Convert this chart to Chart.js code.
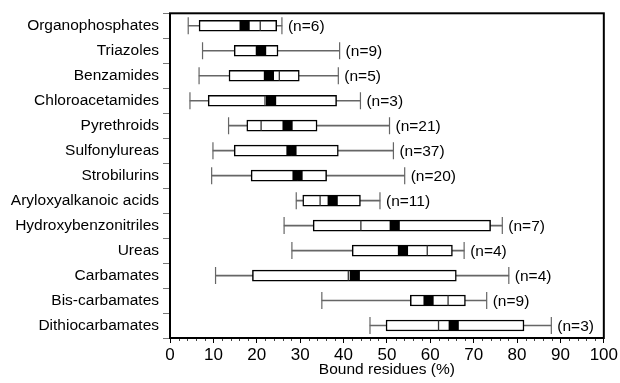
<!DOCTYPE html>
<html>
<head>
<meta charset="utf-8">
<script src="https://cdn.jsdelivr.net/npm/chart.js@4"></script>
<style>
  html, body { margin: 0; padding: 0; background: #fff; }
  #wrap { width: 620px; height: 383px; }
</style>
</head>
<body>
<div id="wrap"><canvas id="boxChart"></canvas></div>
<script>
// Pesticide classes, top to bottom
const classes = ["Organophosphates", "Triazoles", "Benzamides", "Chloroacetamides", "Pyrethroids",
  "Sulfonylureas", "Strobilurins", "Aryloxyalkanoic acids", "Hydroxybenzonitriles", "Ureas",
  "Carbamates", "Bis-carbamates", "Dithiocarbamates"];

// Box plot stats, bound residues (%)
const mins    = [4.2, 7.5, 6.7, 4.6, 13.5, 9.9, 9.6, 29.1, 26.3, 28.1, 10.5, 35.0, 46.1];
const q1s     = [6.7, 14.8, 13.6, 8.8, 17.7, 14.8, 18.7, 30.6, 33.0, 42.0, 19.0, 55.4, 49.8];
const medians = [20.8, 19.9, 25.2, 21.9, 21.0, 28.0, 29.4, 34.6, 44.0, 59.3, 41.1, 64.1, 61.9];
const means   = [17.2, 21.0, 22.8, 23.3, 27.1, 28.0, 29.4, 37.5, 51.8, 53.7, 42.6, 59.6, 65.4];
const q3s     = [24.6, 24.9, 29.8, 38.4, 33.9, 38.8, 36.1, 43.9, 73.9, 65.1, 66.0, 68.1, 81.6];
const maxs    = [25.8, 39.1, 38.8, 43.9, 50.6, 51.5, 54.1, 48.4, 76.6, 67.8, 78.1, 73.0, 87.9];
const counts  = [6, 9, 5, 3, 21, 37, 20, 11, 7, 4, 4, 9, 3];

const xTicksMax = 100;
const fontFamily = "'Liberation Sans', Arial, Helvetica, sans-serif";

// helper to make {x, y} points for one stat
function pts(values) {
  return values.map((v, i) => ({ x: v, y: classes[i] }));
}

// Frame around the plot, minor x ticks and the (n=..) labels
const extras = {
  id: "extras",
  afterDatasetsDraw(chart) {
    const ctx = chart.ctx;
    const xs = chart.scales.x;
    const ys = chart.scales.y;
    ctx.save();
    ctx.font = "15.5px " + fontFamily;
    ctx.fillStyle = "#000";
    ctx.textBaseline = "middle";
    ctx.textAlign = "left";
    counts.forEach((n, i) => {
      ctx.fillText("(n=" + n + ")", xs.getPixelForValue(maxs[i]) + 6, ys.getPixelForValue(i) + 1);
    });
    ctx.restore();
  },
  afterDraw(chart) {
    const ctx = chart.ctx;
    const a = chart.chartArea;
    const xs = chart.scales.x;
    ctx.save();
    // minor ticks every 2
    ctx.strokeStyle = "#444";
    ctx.lineWidth = 1;
    for (let v = 2; v < xTicksMax; v += 2) {
      if (v % 10 === 0) continue;
      const px = Math.round(xs.getPixelForValue(v)) + 0.5;
      ctx.beginPath();
      ctx.moveTo(px, a.bottom);
      ctx.lineTo(px, a.bottom + 3);
      ctx.stroke();
    }
    ctx.strokeStyle = "#000";
    ctx.lineWidth = 2;
    ctx.strokeRect(a.left, a.top, a.right - a.left, a.bottom - a.top);
    ctx.restore();
  }
};

new Chart(document.getElementById("boxChart"), {
  type: "bar",
  data: {
    labels: classes,
    datasets: [
      {
        // mean: filled black square
        type: "line",
        indexAxis: "y",
        data: pts(means),
        showLine: false,
        pointStyle: "rect",
        pointRadius: 7.2,
        pointBorderWidth: 0,
        pointBackgroundColor: "#000",
        order: 0
      },
      {
        // median: vertical line inside the box
        type: "line",
        indexAxis: "y",
        data: pts(medians),
        showLine: false,
        pointStyle: "line",
        pointRotation: 90,
        pointRadius: 5,
        pointBorderWidth: 1.3,
        pointBorderColor: "#333",
        order: 1
      },
      {
        // box q1..q3
        data: q1s.map((q, i) => [q, q3s[i]]),
        backgroundColor: "#fff",
        borderColor: "#000",
        borderWidth: 1.5,
        borderSkipped: false,
        barThickness: 11,
        grouped: false,
        order: 2
      },
      {
        // whisker min..max
        data: mins.map((m, i) => [m, maxs[i]]),
        backgroundColor: "#666",
        borderWidth: 0,
        barThickness: 1,
        grouped: false,
        order: 3
      },
      {
        // whisker caps
        type: "line",
        indexAxis: "y",
        data: pts(mins).concat(pts(maxs)),
        showLine: false,
        pointStyle: "line",
        pointRotation: 90,
        pointRadius: 8.5,
        pointBorderWidth: 1.2,
        pointBorderColor: "#666",
        order: 3
      }
    ]
  },
  options: {
    indexAxis: "y",
    responsive: true,
    maintainAspectRatio: false,
    animation: false,
    events: [],
    layout: { padding: { top: 12, right: 14, left: 0, bottom: 0 } },
    plugins: {
      legend: { display: false },
      tooltip: { enabled: false }
    },
    scales: {
      x: {
        type: "linear",
        min: 0,
        max: xTicksMax,
        afterFit(scale) { scale.height = 45; },
        border: { display: false },
        grid: { drawOnChartArea: false, tickLength: 5, tickColor: "#000", tickWidth: 1 },
        ticks: {
          stepSize: 10,
          padding: 2,
          color: "#000",
          font: { family: fontFamily, size: 17 },
          maxRotation: 0
        },
        title: {
          display: true,
          text: "Bound residues (%)",
          color: "#000",
          padding: { top: 0, bottom: 4 },
          font: { family: fontFamily, size: 15.5 }
        }
      },
      y: {
        type: "category",
        afterFit(scale) { scale.width = 170; },
        border: { display: false },
        grid: { drawOnChartArea: false, offset: true, tickLength: 7, tickColor: "#777", tickWidth: 1 },
        ticks: {
          padding: 4,
          color: "#000",
          font: { family: fontFamily, size: 15.5 }
        }
      }
    }
  },
  plugins: [extras]
});
</script>
</body>
</html>
